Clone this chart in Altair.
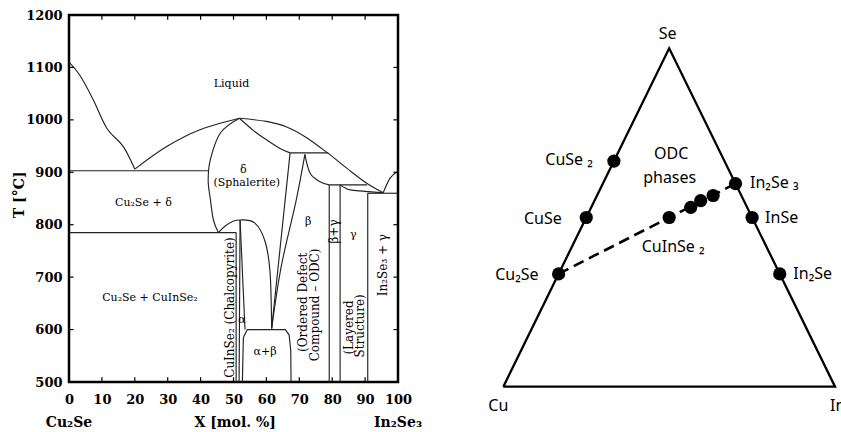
import altair as alt
import pandas as pd

SERIF = "DejaVu Serif"
SANS = "Noto Sans"
LINE = "#222222"

# ---------------- Phase diagram (X in mol.% In2Se3, T in degC) ----------------
liquidus_cu2se = [(0, 1110), (3.3, 1085), (7.4, 1038), (11.5, 984), (16.5, 949), (20, 906)]
liquidus_mid = [(20, 906), (29.7, 949), (39.8, 981), (51.8, 1003)]
liquidus_right = [(51.8, 1003), (60, 997), (66, 987), (72, 967), (78.8, 936), (84.4, 908), (90.5, 879), (95.5, 861)]
liquidus_in2se3 = [(95.5, 861), (97.6, 889), (100, 902)]
delta_left = [(51.8, 1003), (46, 975), (43, 925), (42.3, 885), (43, 847), (43.9, 809), (45.4, 785)]
delta_bottom = [(45.4, 785), (47.4, 797), (50, 807), (52, 809)]
delta_right = [(51.8, 1003), (56, 980), (60, 962), (64, 946), (67.2, 937)]
beta_top = [(71.7, 934), (73.3, 898), (76.3, 882), (79.1, 876)]
gamma_top = [(82.4, 876), (84, 870), (86, 866), (95.5, 861)]
alpha_arc = [(52, 809), (56.5, 803), (59.6, 768), (61.1, 710), (61.6, 602)]
beta_left = [(61.6, 602), (64.5, 720), (69, 845), (71.7, 934)]

delta_beta = [(61.6, 602), (67.2, 937)]
alpha_right = [(52, 809), (53.5, 600)]
alpha_mid = [(52, 809), (51.7, 500)]
alpha_left = [(50.8, 785), (50.8, 500)]
line_785 = [(0, 785), (50.8, 785)]
line_903 = [(0, 903), (42.3, 903)]
line_937 = [(67.2, 937), (78.8, 937)]
line_876 = [(79.1, 876), (90.6, 876)]
line_860 = [(90.8, 860), (100, 860)]
bg_left = [(79.1, 876), (79.1, 500)]
bg_right = [(82.4, 876), (82.4, 500)]
gamma_right = [(90.8, 860), (90.8, 500)]
alpha_beta_box = [(52.7, 500), (53.0, 585), (54.2, 600), (65.7, 600), (66.9, 590), (67.4, 560), (67.5, 500)]

x_tick_values = [0, 10, 20, 30, 40, 50, 60, 70, 80, 90, 100]
t_tick_values = [500, 600, 700, 800, 900, 1000, 1100, 1200]
x_inner_ticks = [10, 20, 30, 40, 50, 60, 70, 80, 90]
t_inner_ticks = [600, 700, 800, 900, 1000, 1100]

labels_h = ["Liquid", "δ", "(Sphalerite)", "Cu₂Se + δ", "Cu₂Se + CuInSe₂", "α", "α+β", "β", "γ"]
labels_h_x = [49.4, 53, 54, 22.6, 24.6, 52.6, 59.6, 72.7, 86.4]
labels_h_t = [1068, 904, 879, 841, 660, 619, 558, 806, 780]

labels_v = ["CuInSe₂ (Chalcopyrite)", "(Ordered Defect", "Compound – ODC)", "β+γ", "(Layered", "Structure)", "In₂Se₃ + γ"]
labels_v_x = [48.9, 71.2, 74.7, 80.4, 85.1, 88.4, 95.5]
labels_v_t = [642, 652, 647, 787, 604, 607, 723]

axis_texts = ["Cu₂Se", "X [mol. %]", "In₂Se₃"]
axis_texts_x = [0, 50.5, 100]
axis_texts_t = [422, 422, 422]

# ---------------- Ternary Cu-In-Se (atomic fractions Cu, In, Se) ----------------
tern_names = ["Cu₂Se", "CuSe", "CuSe₂", "In₂Se₃", "InSe", "In₂Se", "CuInSe₂", "ODC1", "ODC2", "ODC3"]
tern_cu = [2/3, 0.5, 1/3, 0.0, 0.0, 0.0, 0.25, 0.17, 0.13, 0.085]
tern_in = [0.0, 0.0, 0.0, 0.4, 0.5, 2/3, 0.25, 0.30, 0.32, 0.35]
tern_se = [1/3, 0.5, 2/3, 0.6, 0.5, 1/3, 0.5, 0.53, 0.55, 0.565]

corner_names = ["Cu", "In", "Se"]
corner_cu = [1.0, 0.0, 0.0]
corner_in = [0.0, 1.0, 0.0]
corner_se = [0.0, 0.0, 1.0]


def tern_xy(cu, inn, se):
    s = cu + inn + se
    return (inn + se / 2) / s, se / s


def seg_df(segs):
    rows = []
    for name, pts in segs.items():
        for i, (x, t) in enumerate(pts):
            rows.append({"seg": name, "ord": i, "X": x, "T": t})
    return pd.DataFrame(rows)


curved = {
    "liquidus_cu2se": liquidus_cu2se, "liquidus_mid": liquidus_mid,
    "liquidus_right": liquidus_right, "liquidus_in2se3": liquidus_in2se3,
    "delta_left": delta_left, "delta_bottom": delta_bottom, "delta_right": delta_right,
    "beta_top": beta_top, "gamma_top": gamma_top, "alpha_arc": alpha_arc, "beta_left": beta_left,
}
straight = {
    "delta_beta": delta_beta, "alpha_right": alpha_right, "alpha_mid": alpha_mid,
    "alpha_left": alpha_left, "line_785": line_785, "line_903": line_903, "line_937": line_937,
    "line_876": line_876, "line_860": line_860, "bg_left": bg_left, "bg_right": bg_right,
    "gamma_right": gamma_right, "alpha_beta_box": alpha_beta_box,
}

xsc = alt.Scale(domain=[0, 100], nice=False, zero=False)
ysc = alt.Scale(domain=[500, 1200], nice=False, zero=False)

x_axis = alt.Axis(values=x_tick_values, ticks=False, domain=False, grid=False, title=None, format="d",
                  labelFont=SERIF, labelFontSize=13, labelFontWeight="bold", labelColor="black",
                  labelPadding=11, labelFlush=False)
y_axis = alt.Axis(values=t_tick_values, ticks=False, domain=False, grid=False, title=None, format="d",
                  labelFont=SERIF, labelFontSize=13, labelFontWeight="bold", labelColor="black",
                  labelPadding=7, labelFlush=False)


def xe(field):
    return alt.X(f"{field}:Q", scale=xsc, axis=x_axis)


def ye(field):
    return alt.Y(f"{field}:Q", scale=ysc, axis=y_axis)


curve_layer = alt.Chart(seg_df(curved)).mark_line(
    color=LINE, strokeWidth=1.15, interpolate="cardinal"
).encode(x=xe("X"), y=ye("T"), detail="seg:N", order="ord:Q")

straight_layer = alt.Chart(seg_df(straight)).mark_line(
    color=LINE, strokeWidth=1.15
).encode(x=xe("X"), y=ye("T"), detail="seg:N", order="ord:Q")

# inward ticks on the four sides of the frame
bt = pd.DataFrame({"X": x_inner_ticks, "a": 500, "b": 509})
tt = pd.DataFrame({"X": x_inner_ticks, "a": 1200, "b": 1191})
lt = pd.DataFrame({"T": t_inner_ticks, "a": 0, "b": 1.4})
rt = pd.DataFrame({"T": t_inner_ticks, "a": 100, "b": 98.6})
tick_bottom = alt.Chart(bt).mark_rule(color="black", strokeWidth=1.2).encode(x=xe("X"), y=ye("a"), y2="b:Q")
tick_top = alt.Chart(tt).mark_rule(color="black", strokeWidth=1.2).encode(x=xe("X"), y=ye("a"), y2="b:Q")
tick_left = alt.Chart(lt).mark_rule(color="black", strokeWidth=1.2).encode(y=ye("T"), x=xe("a"), x2="b:Q")
tick_right = alt.Chart(rt).mark_rule(color="black", strokeWidth=1.2).encode(y=ye("T"), x=xe("a"), x2="b:Q")

h_df = pd.DataFrame({"label": labels_h, "X": labels_h_x, "T": labels_h_t})
v_df = pd.DataFrame({"label": labels_v, "X": labels_v_x, "T": labels_v_t})
a_df = pd.DataFrame({"label": axis_texts, "X": axis_texts_x, "T": axis_texts_t})

text_h = alt.Chart(h_df).mark_text(font=SERIF, fontSize=11, color="black", baseline="middle").encode(
    x=xe("X"), y=ye("T"), text="label:N")
text_v = alt.Chart(v_df).mark_text(font=SERIF, fontSize=12, color="black", baseline="middle", angle=270).encode(
    x=xe("X"), y=ye("T"), text="label:N")
text_a = alt.Chart(a_df).mark_text(font=SERIF, fontSize=14, fontWeight="bold", color="black", baseline="middle").encode(
    x=xe("X"), y=ye("T"), text="label:N")
ytitle = alt.Chart(pd.DataFrame({"label": ["T [°C]"], "X": [-14.9], "T": [857]})).mark_text(
    font=SERIF, fontSize=14, fontWeight="bold", color="black", baseline="middle", angle=270).encode(
    x=xe("X"), y=ye("T"), text="label:N")

phase = alt.layer(curve_layer, straight_layer, tick_bottom, tick_top, tick_left, tick_right,
                  text_h, text_v, text_a, ytitle)

# ---------------- ternary layers ----------------
usc = alt.Scale(domain=[-1.3093, -0.3175], nice=False, zero=False)
vsc = alt.Scale(domain=[0.0139, 1.0984], nice=False, zero=False)


def ue():
    return alt.X("u:Q", scale=usc, axis=None)


def ve():
    return alt.Y("v:Q", scale=vsc, axis=None)


pts = pd.DataFrame({"name": tern_names, "cu": tern_cu, "in": tern_in, "se": tern_se})
pts["u"], pts["v"] = zip(*[tern_xy(a, b, c) for a, b, c in zip(pts.cu, pts["in"], pts.se)])
corners = pd.DataFrame({"name": corner_names, "cu": corner_cu, "in": corner_in, "se": corner_se})
corners["u"], corners["v"] = zip(*[tern_xy(a, b, c) for a, b, c in zip(corners.cu, corners["in"], corners.se)])

tri = pd.concat([corners, corners.iloc[[0]]], ignore_index=True)
tri["ord"] = range(len(tri))
tri_layer = alt.Chart(tri).mark_line(color="black", strokeWidth=2.3).encode(x=ue(), y=ve(), order="ord:Q")

tie = pts[pts.name.isin(["Cu₂Se", "In₂Se₃"])].copy()
tie["ord"] = [0, 1]
tie_layer = alt.Chart(tie).mark_line(color="black", strokeWidth=2.6, strokeDash=[11, 6]).encode(
    x=ue(), y=ve(), order="ord:Q")

dot_layer = alt.Chart(pts).mark_circle(color="black", opacity=1, size=175).encode(x=ue(), y=ve())

# label: (text, anchor, dx, dy, align)
tern_labels = [
    ("Se", "Se", -1.5, -14.5, "center"),
    ("Cu", "Cu", -5, 19.5, "center"),
    ("In", "In", -5, 19.5, "left"),
    ("Cu₂Se", "Cu₂Se", -20, 1, "right"),
    ("CuSe", "CuSe", -24.5, 1, "right"),
    ("CuSe ₂", "CuSe₂", -21, -1, "right"),
    ("In₂Se ₃", "In₂Se₃", 14.5, -1, "left"),
    ("InSe", "InSe", 13, 0, "left"),
    ("In₂Se", "In₂Se", 13.6, 0, "left"),
    ("CuInSe ₂", "CuInSe₂", 4, 29, "center"),
    ("ODC", "ODC2", -29.5, -46.5, "center"),
    ("phases", "ODC2", -31, -23, "center"),
]
allpts = pd.concat([pts, corners], ignore_index=True)
tern_text_layers = []
for txt, anchor, dx, dy, al in tern_labels:
    row = allpts[allpts.name == anchor].iloc[[0]].copy()
    row["label"] = txt
    tern_text_layers.append(
        alt.Chart(row).mark_text(font=SANS, fontSize=16, color="black", baseline="middle",
                                 align=al, dx=dx, dy=dy).encode(x=ue(), y=ve(), text="label:N"))

tern = alt.layer(tri_layer, tie_layer, dot_layer, *tern_text_layers)

chart = alt.layer(phase, tern).resolve_scale(x="independent", y="independent").properties(
    width=329, height=367,
    autosize=alt.AutoSizeParams(type="none"),
    padding={"left": 69, "top": 15, "right": 443, "bottom": 50},
    background="white",
).configure_view(stroke="black", strokeWidth=2.5)

chart.save("out.html", embed_options={"renderer": "svg", "actions": False})
